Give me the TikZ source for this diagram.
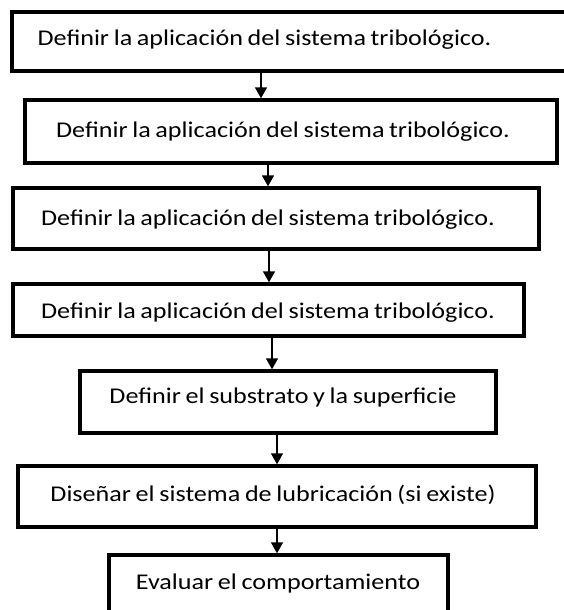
\documentclass[tikz,border=0pt]{standalone}
\usepackage{fontspec}
\setmainfont{Carlito}[WordSpace=0.8]
\usetikzlibrary{arrows.meta}
\newcommand{\wtxt}[1]{\scalebox{1.16}[1]{#1}}
\tikzset{
  box/.style={draw=black, line width=3.4pt, rectangle, inner sep=0pt, fill=white},
  txt/.style={anchor=base, inner sep=0pt, font=\fontsize{22.5}{26}\selectfont, text=black},
  arr/.style={draw=black, line width=1.4pt, -{Triangle[width=12pt,length=11pt]}}
}
\begin{document}
\begin{tikzpicture}[x=1pt,y=-1pt]
\useasboundingbox (0,0) rectangle (564,610);
\clip (0,0) rectangle (564,610);
\fill[white] (0,0) rectangle (564,610);
\node[box, minimum width=556pt, minimum height=59pt] (b1) at (290,41.5) {};
\node[box, minimum width=532pt, minimum height=63pt] (b2) at (291,131.5) {};
\node[box, minimum width=526pt, minimum height=61pt] (b3) at (276,218.5) {};
\node[box, minimum width=511pt, minimum height=52pt] (b4) at (268.5,310) {};
\node[box, minimum width=416pt, minimum height=62pt] (b5) at (288,402) {};
\node[box, minimum width=518pt, minimum height=61pt] (b6) at (277,496.5) {};
\node[box, minimum width=339pt, minimum height=70pt] (b7) at (278.5,590) {};
\node[txt] (t1) at (264.5,46) {\wtxt{Definir la aplicación del sistema tribológico.}};
\node[txt] (t2) at (283,137) {\wtxt{Definir la aplicación del sistema tribológico.}};
\node[txt] (t3) at (268,225) {\wtxt{Definir la aplicación del sistema tribológico.}};
\node[txt] (t4) at (268,318) {\wtxt{Definir la aplicación del sistema tribológico.}};
\node[txt] (t5) at (283,403) {\wtxt{Definir el substrato y la superficie}};
\node[txt] (t6) at (273,501) {\wtxt{Diseñar el sistema de lubricación (si existe)}};
\node[txt] (t7) at (278,589) {\wtxt{Evaluar el comportamiento}};
\draw[arr] (b1.south -| 261,0) -- (b2.north -| 261,0);
\draw[arr] (b2.south -| 268,0) -- (b3.north -| 268,0);
\draw[arr] (b3.south -| 269,0) -- (b4.north -| 269,0);
\draw[arr] (b4.south -| 272,0) -- (b5.north -| 272,0);
\draw[arr] (b5.south -| 277,0) -- (b6.north -| 277,0);
\draw[arr] (b6.south -| 277,0) -- (b7.north -| 277,0);
\end{tikzpicture}
\end{document}
